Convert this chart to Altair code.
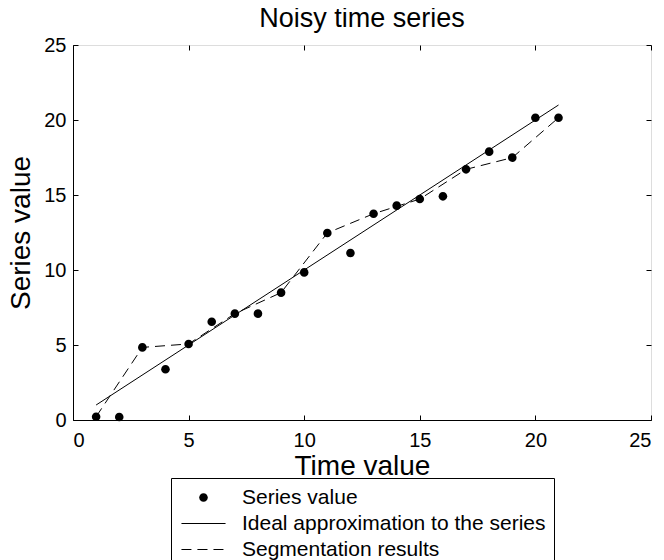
import altair as alt
import pandas as pd

# ---- data ----
time_values = [1, 2, 3, 4, 5, 6, 7, 8, 9, 10, 11, 12, 13, 14, 15, 16, 17, 18, 19, 20, 21]
series_values = [0.22, 0.2, 4.84, 3.38, 5.07, 6.55, 7.09, 7.09, 8.49, 9.84, 12.47,
                 11.13, 13.75, 14.29, 14.73, 14.91, 16.71, 17.89, 17.49, 20.15, 20.15]
ideal_x = [1, 21]
ideal_y = [1, 21]
seg_x = [1, 3, 5, 7, 9, 11, 13, 15, 17, 19, 21]
seg_y = [0.22, 4.84, 5.07, 7.09, 8.49, 12.47, 13.75, 14.73, 16.71, 17.49, 20.15]
axis_ticks = [0, 5, 10, 15, 20, 25]
legend_labels = ["Series value", "Ideal approximation to the series", "Segmentation results"]

W, H = 578, 375
FONT = "Liberation Sans"
SYM = 441  # symbol area -> 21 px unit box (10.5 px per path unit)

points_df = pd.DataFrame({"t": time_values, "v": series_values, "series": legend_labels[0]})
ideal_df = pd.DataFrame({"t": ideal_x, "v": ideal_y})
seg_df = pd.DataFrame({"t": seg_x, "v": seg_y})

x_scale = alt.Scale(domain=[0, 25], nice=False, zero=False)
y_scale = alt.Scale(domain=[0, 25], nice=False, zero=False)

x_axis = alt.Axis(values=axis_ticks, title="Time value", ticks=False, grid=True,
                  gridColor="black", gridOpacity=1, gridWidth=1, gridDash=[5, H - 10, 5, 2000],
                  domainColor="black", labelFontSize=20, labelColor="black", labelPadding=10,
                  titleFontSize=28, titleFontWeight="normal", titleColor="black", titlePadding=2,
                  labelFont=FONT, titleFont=FONT)
y_axis = alt.Axis(values=axis_ticks, title="Series value", ticks=False, grid=True,
                  gridColor="black", gridOpacity=1, gridWidth=1, gridDash=[5, W - 10, 5, 2000],
                  domainColor="black", labelFontSize=20, labelColor="black", labelPadding=7,
                  titleFontSize=28, titleFontWeight="normal", titleColor="black", titlePadding=8,
                  labelFont=FONT, titleFont=FONT)


def bar(a, b, h=0.05):
    return f"M{a},-{h}H{b}V{h}H{a}Z"


r = 0.41
circle_path = f"M-{r},0A{r},{r},0,1,1,{r},0A{r},{r},0,1,1,-{r},0Z"
line_path = bar(-2.1, 2.1)
dash_path = bar(-2.1, -1.15) + bar(-0.58, 0.38) + bar(0.95, 1.9)

points = alt.Chart(points_df).mark_point(filled=True, color="black", size=SYM, opacity=1).encode(
    x=alt.X("t:Q", scale=x_scale, axis=x_axis),
    y=alt.Y("v:Q", scale=y_scale, axis=y_axis),
    shape=alt.Shape("series:N",
                    scale=alt.Scale(domain=legend_labels, range=[circle_path, line_path, dash_path]),
                    legend=alt.Legend(title=None, orient="none", legendX=98, legendY=433,
                                      symbolSize=SYM, symbolFillColor="black",
                                      symbolOpacity=1, symbolOffset=13,
                                      labelFontSize=21, labelFont=FONT, labelLimit=600,
                                      labelColor="black", labelOffset=27, rowPadding=4,
                                      strokeColor="black", fillColor="white", padding=8,
                                      values=legend_labels)),
)

ideal = alt.Chart(ideal_df).mark_line(color="black", strokeWidth=1).encode(
    x=alt.X("t:Q", scale=x_scale), y=alt.Y("v:Q", scale=y_scale))
seg = alt.Chart(seg_df).mark_line(color="black", strokeWidth=1, strokeDash=[10, 6]).encode(
    x=alt.X("t:Q", scale=x_scale), y=alt.Y("v:Q", scale=y_scale))

chart = alt.layer(ideal, seg, points).properties(
    width=W, height=H,
    title=alt.TitleParams("Noisy time series", fontSize=27, font=FONT, fontWeight="normal",
                          color="black", anchor="middle", offset=2),
    autosize=alt.AutoSizeParams(type="none"),
    padding={"left": 65, "top": 37, "right": 5, "bottom": 140},
).configure_view(stroke="black", strokeWidth=1).configure(background="white")

chart.save("out.html", embed_options={"renderer": "svg", "actions": False})
